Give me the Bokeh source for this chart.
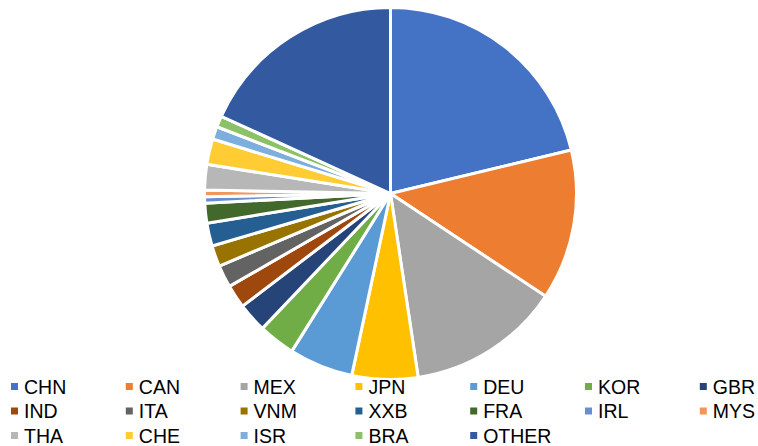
import math
from bokeh.plotting import figure
from bokeh.models import ColumnDataSource, Range1d
from bokeh.core.properties import value
from bokeh.embed import file_html
from bokeh.resources import INLINE

countries = ["CHN", "CAN", "MEX", "JPN", "DEU", "KOR", "GBR", "IND", "ITA", "VNM",
             "XXB", "FRA", "IRL", "MYS", "THA", "CHE", "ISR", "BRA", "OTHER"]
shares = [21.25, 13.06, 13.31, 5.72, 5.56, 3.19, 2.56, 2.03, 1.94, 1.83,
          2.00, 1.72, 0.56, 0.56, 2.22, 2.22, 1.11, 0.97, 18.19]
colors = ["#4472C4", "#ED7D31", "#A5A5A5", "#FFC000", "#5B9BD5", "#70AD47", "#264478",
          "#9E480E", "#636363", "#997300", "#255E91", "#43682B", "#698ED0", "#F1975A",
          "#B7B7B7", "#FFCD33", "#7CAFDD", "#8CC168", "#335AA1"]

W, H = 758, 446
cx, cy, r = 390, H - 193, 186

total = sum(shares)
starts, ends = [], []
acc = 0.0
for s in shares:
    starts.append(math.pi / 2 - 2 * math.pi * acc / total)
    acc += s
    ends.append(math.pi / 2 - 2 * math.pi * acc / total)

src = ColumnDataSource(dict(country=countries, share=shares, color=colors,
                            start=starts, end=ends))

p = figure(width=W, height=H, output_backend="svg", toolbar_location=None,
           x_range=Range1d(0, W), y_range=Range1d(0, H), min_border=0,
           background_fill_color="white", border_fill_color="white")
p.axis.visible = False
p.grid.visible = False
p.outline_line_color = None

p.wedge(x=cx, y=cy, radius=r, start_angle="start", end_angle="end", direction="clock",
        fill_color="color", line_color="white", line_width=3, source=src)

# legend (7 columns, 3 rows)
ncol = 7
lx = [14 + 114.8 * (i % ncol) for i in range(len(countries))]
ly = [H - (386 + 24.5 * (i // ncol)) for i in range(len(countries))]
lsrc = ColumnDataSource(dict(x=lx, y=ly, tx=[v + 9.5 for v in lx], label=countries,
                             color=colors))
p.scatter(x="x", y="y", marker="square", size=7, fill_color="color", line_color=None, source=lsrc)
p.text(x="tx", y="y", text="label",
       text_font=value("Liberation Sans"),
       text_font_size="19.5px",
       text_baseline="middle", text_align="left", text_color="#000000", source=lsrc)

open("out.html", "w").write(file_html(p, INLINE))
